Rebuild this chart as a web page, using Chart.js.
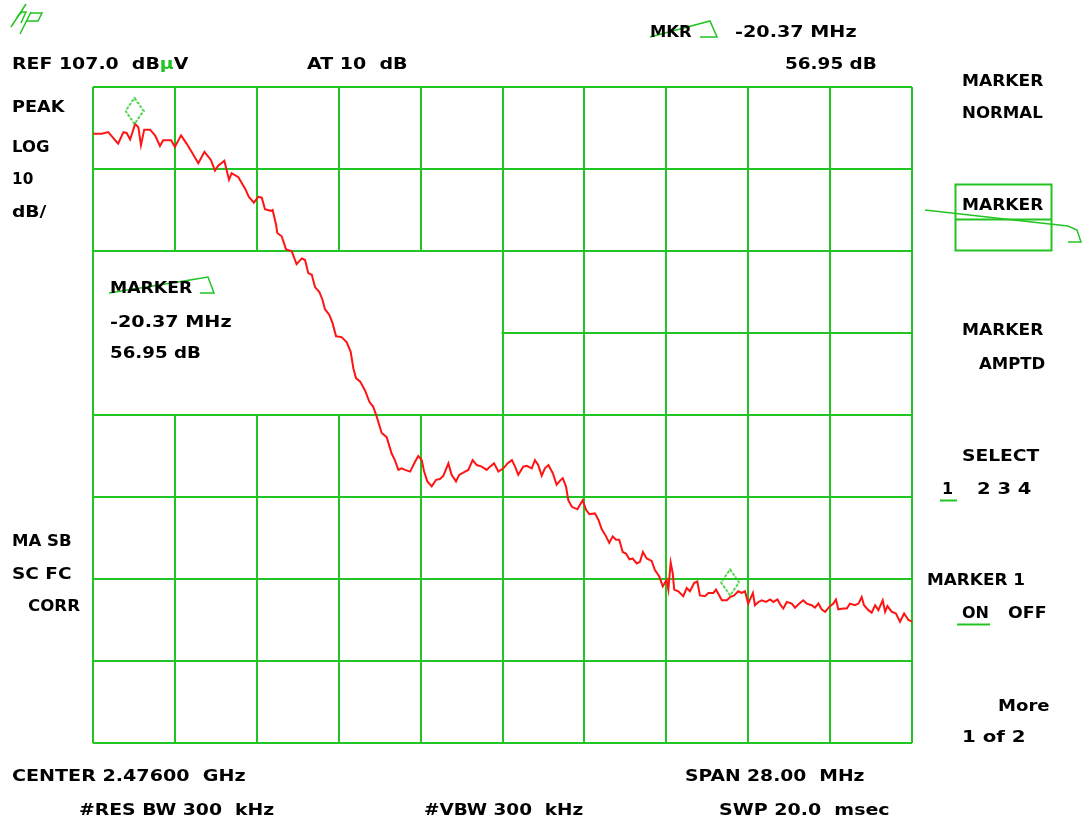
<!DOCTYPE html>
<html>
<head>
<meta charset="utf-8">
<script src="https://cdn.jsdelivr.net/npm/chart.js@4.4.1/dist/chart.umd.min.js"></script>
<style>
html, body { margin: 0; padding: 0; background: #fff; }
#wrap { position: relative; width: 1082px; height: 825px; overflow: hidden; }
#c { position: absolute; left: 0; top: 0; }
svg { position: absolute; left: 0; top: 0; }
.t { position: absolute; font: bold 16px "DejaVu Sans"; line-height: 16px; white-space: pre; color: #000; transform-origin: 0 50%; }
.g { color: #22c422; }
</style>
</head>
<body>
<div id="wrap">
<canvas id="c" width="1082" height="825"></canvas>
<svg width="1082" height="825" fill="none" stroke="#22c422" stroke-width="1.5">
  <!-- hp logo -->
  <polyline points="26,4 11,27" />
  <polyline points="17,17 22,12 26,12 21,23" />
  <polyline points="31,12 20,34" />
  <polyline points="30,13 42,13 38,21 27,21" />
  <!-- delta marker symbols -->
  <polyline points="650,37 710,21 717,37 700,37" />
  <polyline points="109,293 190,280 208,277 214,293 200,293" />
  <polyline points="925,210 1068,226 1077,230 1081,242 1068,242" />
  <!-- softkey box -->
  <rect x="955.5" y="184.5" width="96" height="66" stroke-width="2" />
  <line x1="955" y1="219.5" x2="1052" y2="219.5" stroke-width="2" />
  <!-- underlines -->
  <line x1="940" y1="500.5" x2="957" y2="500.5" stroke-width="2" />
  <line x1="957" y1="624.5" x2="990" y2="624.5" stroke-width="2" />
</svg>
</div>
<script>
// trace: offset from centre (MHz) and level (dBuV)
var freqOffset = [
  -13.99, -13.70, -13.48, -13.14, -12.96, -12.85, -12.73, -12.56, -12.45, -12.36,
  -12.25, -12.05, -11.88, -11.71, -11.60, -11.33, -11.20, -10.99, -10.80, -10.63,
  -10.40, -10.19, -9.97, -9.83, -9.72, -9.51, -9.35, -9.26, -9.03, -8.80,
  -8.67, -8.50, -8.35, -8.23, -8.12, -7.92, -7.86, -7.74, -7.70, -7.55,
  -7.40, -7.21, -7.04, -6.86, -6.75, -6.64, -6.52, -6.41, -6.26, -6.15,
  -6.07, -5.92, -5.81, -5.69, -5.50, -5.33, -5.19, -5.10, -5.01, -4.87,
  -4.70, -4.55, -4.42, -4.30,
  -4.13, -3.96, -3.79, -3.68, -3.56, -3.45, -3.33, -3.16, -2.99, -2.88,
  -2.76, -2.68, -2.57, -2.42, -2.27, -2.14, -2.02, -1.85, -1.74, -1.59,
  -1.48, -1.28, -1.17, -1.02, -0.88, -0.71, -0.54, -0.43, -0.29, -0.14,
  0.03, 0.17, 0.32, 0.43, 0.54, 0.71, 0.83, 1.00, 1.11, 1.22,
  1.34, 1.45, 1.57, 1.72, 1.85, 1.97, 2.06, 2.17, 2.25, 2.37,
  2.56, 2.74, 2.86, 2.97, 3.16, 3.28, 3.39, 3.54, 3.65, 3.77,
  3.88, 3.99, 4.11, 4.22, 4.34, 4.45, 4.59, 4.70, 4.80, 4.93,
  5.10, 5.21, 5.36, 5.48, 5.61, 5.67, 5.75, 5.82, 5.87, 6.01,
  6.18, 6.30, 6.41, 6.55, 6.66, 6.75, 6.92, 7.04, 7.21, 7.30,
  7.50, 7.67, 7.78, 7.92, 8.06, 8.18, 8.29, 8.40, 8.56, 8.63,
  8.75, 8.86, 9.01, 9.15, 9.26, 9.40, 9.51, 9.60, 9.72, 9.89,
  10.00, 10.15, 10.28, 10.40, 10.57, 10.68, 10.80, 10.91, 11.03, 11.17,
  11.31, 11.40, 11.48, 11.65, 11.77, 11.88, 12.05, 12.17, 12.28, 12.36,
  12.51, 12.62, 12.74, 12.85, 13.00, 13.08, 13.16, 13.31, 13.45, 13.59,
  13.73, 13.88, 14.00
];
var traceLevel = [
  101.3, 101.3, 101.5, 100.1, 101.5, 101.4, 100.6, 102.5, 102.1, 99.9,
  101.8, 101.8, 101.1, 99.8, 100.5, 100.5, 99.7, 101.1, 100.1, 99.1,
  97.7, 99.1, 98.1, 96.8, 97.4, 98.0, 95.7, 96.5, 96.0, 94.6,
  93.6, 92.9, 93.6, 93.5, 92.1, 91.9, 92.0, 90.2, 89.2, 88.8,
  87.2, 87.0, 85.4, 86.1, 85.9, 84.3, 84.1, 82.6, 82.0, 81.0,
  79.9, 79.2, 78.2, 76.6, 76.5, 75.9, 74.7, 72.7, 71.5, 71.1,
  70.0, 68.6, 68.0, 66.8,
  64.8, 64.3, 62.3, 61.5, 60.3, 60.5, 60.3, 60.1, 61.3, 62.0,
  61.5, 60.1, 58.9, 58.3, 59.1, 59.2, 59.6, 61.1, 59.7, 58.9,
  59.7, 60.1, 60.3, 61.5, 60.9, 60.7, 60.3, 60.7, 61.1, 60.1,
  60.5, 61.1, 61.5, 60.7, 59.7, 60.7, 60.8, 60.5, 61.5, 60.9,
  59.6, 60.5, 60.9, 59.9, 58.5, 59.0, 59.3, 58.3, 56.6, 55.8,
  55.5, 56.6, 55.4, 54.9, 55.0, 54.2, 53.1, 52.2, 51.4, 52.2,
  51.8, 51.8, 50.3, 50.1, 49.4, 49.5, 48.9, 49.1, 50.3, 49.5,
  49.2, 48.1, 47.3, 46.1, 46.9, 45.7, 49.0, 47.7, 45.7, 45.5,
  44.9, 45.9, 45.5, 46.5, 46.7, 45.0, 44.9, 45.3, 45.3, 45.7,
  44.4, 44.4, 44.8, 45.0, 45.5, 45.3, 45.5, 44.0, 45.3, 43.8,
  44.2, 44.4, 44.2, 44.5, 44.2, 44.5, 43.8, 43.4, 44.2, 44.0,
  43.5, 44.0, 44.4, 44.0, 43.8, 43.5, 44.0, 43.3, 43.0, 43.6,
  44.0, 44.5, 43.3, 43.4, 43.4, 44.0, 43.8, 44.0, 44.8, 43.8,
  43.2, 42.9, 43.8, 43.2, 44.4, 43.0, 43.7, 43.0, 42.8, 41.8,
  42.8, 42.0, 41.8
];
var markerFreq = [-12.58, 7.78];
var markerLevel = [102.5, 45.0];
var freqTicks = [-14, -11.2, -8.4, -5.6, -2.8, 0, 2.8, 5.6, 8.4, 11.2, 14];
var levelTicks = [27, 37, 47, 57, 67, 77, 87, 97, 107];

var gridGreen = '#22c422';

// annotation texts: text, left, vertical centre, width (0 = natural width)
var labels = [
  ['REF 107.0  dB<span class="g">\u00b5</span>V', 12, 64, 176],
  ['AT 10  dB', 307, 64, 101],
  ['MKR', 650, 32, 42],
  ['-20.37 MHz', 735, 32, 121],
  ['56.95 dB', 785, 64, 92],
  ['MARKER', 962, 81, 81],
  ['NORMAL', 962, 113, 81],
  ['MARKER', 962, 205, 81],
  ['MARKER', 962, 330, 81],
  ['AMPTD', 979, 364, 66],
  ['SELECT', 962, 456, 77],
  ['1', 942, 489, 0],
  ['2 3 4', 977, 489, 55],
  ['MARKER 1', 927, 580, 98],
  ['ON', 962, 613, 27],
  ['OFF', 1008, 613, 38],
  ['More', 998, 706, 52],
  ['1 of 2', 962, 737, 63],
  ['PEAK', 12, 107, 52],
  ['LOG', 12, 147, 37],
  ['10', 12, 179, 21],
  ['dB/', 12, 212, 35],
  ['MA SB', 12, 541, 60],
  ['SC FC', 12, 574, 60],
  ['CORR', 28, 606, 52],
  ['MARKER', 110, 288, 82],
  ['-20.37 MHz', 110, 322, 121],
  ['56.95 dB', 110, 353, 91],
  ['CENTER 2.47600  GHz', 12, 776, 234],
  ['SPAN 28.00  MHz', 685, 776, 180],
  ['#RES BW 300  kHz', 79, 810, 195],
  ['#VBW 300  kHz', 424, 810, 159],
  ['SWP 20.0  msec', 719, 810, 171]
];

function makeDiamond() {
  var c = document.createElement('canvas');
  c.width = 20;
  c.height = 56;
  var g = c.getContext('2d');
  g.strokeStyle = gridGreen;
  g.lineWidth = 1.6;
  g.setLineDash([3, 1.5]);
  g.beginPath();
  g.moveTo(10, 2);
  g.lineTo(19, 15);
  g.lineTo(10, 28);
  g.lineTo(1, 15);
  g.closePath();
  g.stroke();
  return c;
}

// blank readout window in the upper left of the graticule
var readoutBox = {
  id: 'readoutBox',
  beforeDatasetsDraw: function (chart) {
    var xs = chart.scales.x, ys = chart.scales.y, ctx = chart.ctx;
    var x0 = xs.getPixelForValue(-14), x1 = xs.getPixelForValue(0);
    var y0 = ys.getPixelForValue(87), y1 = ys.getPixelForValue(67);
    ctx.save();
    ctx.fillStyle = '#fff';
    ctx.fillRect(x0 + 1, y0 + 1, x1 - x0 - 2, y1 - y0 - 2);
    ctx.restore();
  }
};

function initChart() {
  var trace = freqOffset.map(function (f, i) { return { x: f, y: traceLevel[i] }; });
  var markers = markerFreq.map(function (f, i) { return { x: f, y: markerLevel[i] }; });

  new Chart(document.getElementById('c').getContext('2d'), {
    type: 'line',
    data: {
      datasets: [{
        data: markers,
        showLine: false,
        pointStyle: makeDiamond(),
        pointRadius: 10,
        order: 0
      }, {
        data: trace,
        borderColor: '#ff1414',
        borderWidth: 2,
        pointRadius: 0,
        tension: 0,
        fill: false,
        order: 1
      }]
    },
    options: {
      responsive: false,
      animation: false,
      layout: { padding: { left: 93, top: 87, right: 170, bottom: 82 } },
      plugins: { legend: { display: false }, tooltip: { enabled: false } },
      scales: {
        x: {
          type: 'linear', min: -14, max: 14,
          ticks: { display: false },
          grid: { color: gridGreen, lineWidth: 2, drawTicks: false },
          border: { display: false },
          afterBuildTicks: function (axis) { axis.ticks = freqTicks.map(function (v) { return { value: v }; }); },
          afterFit: function (axis) { axis.height = 0; }
        },
        y: {
          min: 27, max: 107,
          ticks: { display: false },
          grid: { color: gridGreen, lineWidth: 2, drawTicks: false },
          border: { display: false },
          afterBuildTicks: function (axis) { axis.ticks = levelTicks.map(function (v) { return { value: v }; }); },
          afterFit: function (axis) { axis.width = 0; }
        }
      }
    },
    plugins: [readoutBox]
  });
}

function placeLabels() {
  var wrap = document.getElementById('wrap');
  labels.forEach(function (l) {
    var d = document.createElement('div');
    d.className = 't';
    d.innerHTML = l[0];
    d.style.left = l[1] + 'px';
    d.style.top = (l[2] - 8) + 'px';
    wrap.appendChild(d);
    var w = d.offsetWidth;
    if (l[3] > 0 && w > 0) d.style.transform = 'scaleX(' + (l[3] / w).toFixed(3) + ')';
  });
}

document.addEventListener('DOMContentLoaded', function () {
  initChart();
  placeLabels();
});
</script>
</body>
</html>
